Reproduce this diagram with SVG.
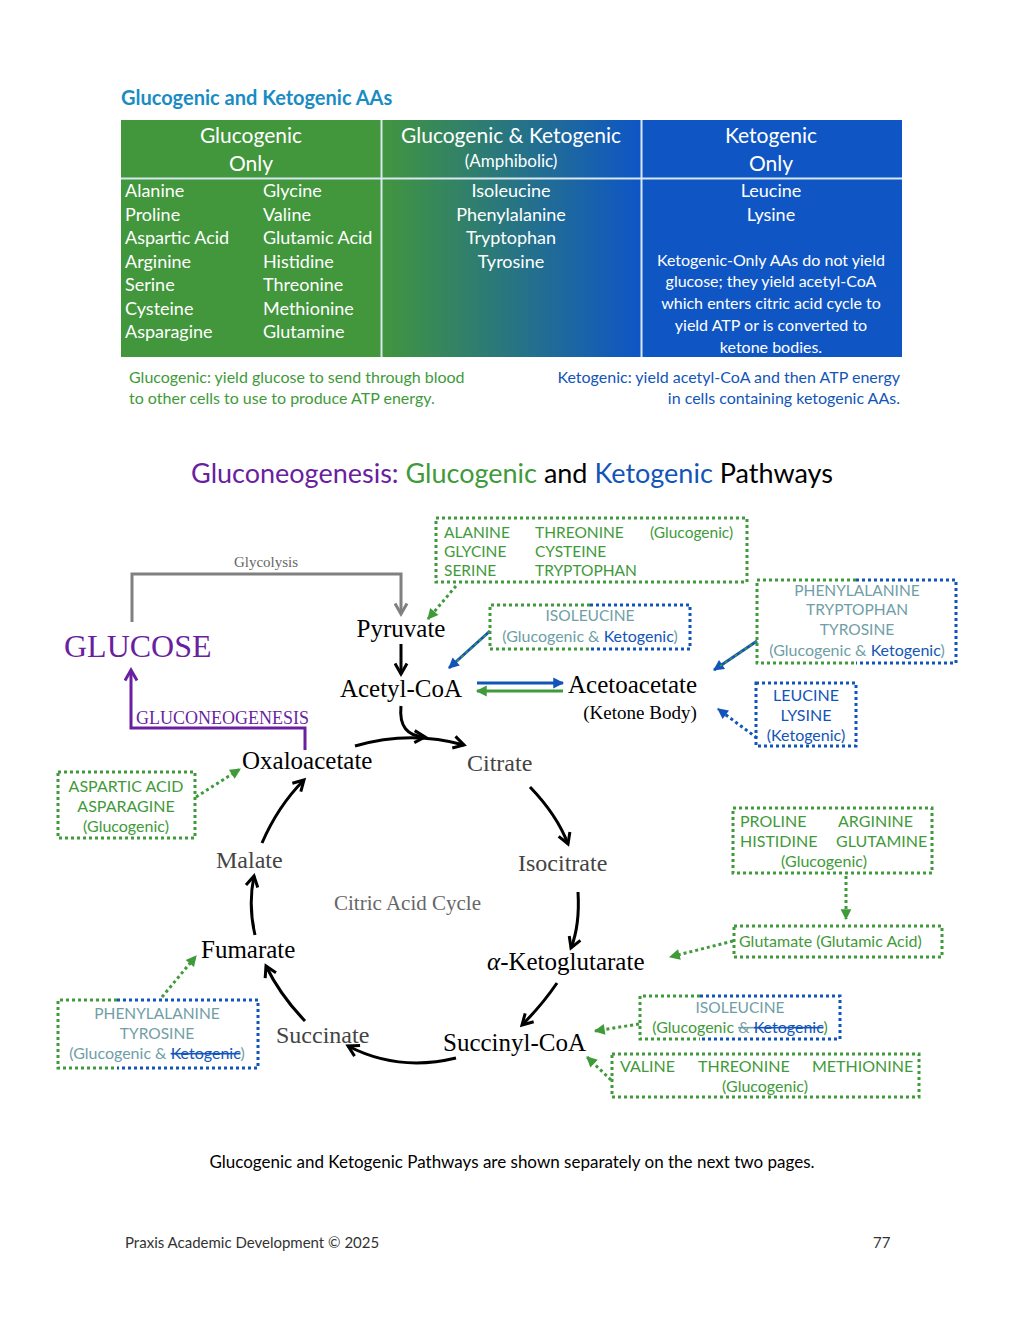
<svg xmlns="http://www.w3.org/2000/svg" width="1024" height="1325" viewBox="0 0 1024 1325">
<style>
.s{font-family:Lato,"Open Sans","Liberation Sans",sans-serif}
.r{font-family:"Liberation Serif","DejaVu Serif",serif}
.w{fill:#fff;font-size:18px}
.g{fill:#3f9a3a}.b{fill:#1255b8}.t{fill:#6f9ea6}
.gb{fill:none;stroke:#3f9a3a;stroke-width:3;stroke-dasharray:3 3}
.bb{fill:none;stroke:#1255b8;stroke-width:3;stroke-dasharray:3 3}
.k{fill:none;stroke:#000;stroke-width:3}
.m{font-size:25px;fill:#000}
.gr{font-size:24px;fill:#444}
.bx{font-size:15.5px}
</style>
<defs>
<linearGradient id="grad" x1="121" x2="902" y1="0" y2="0" gradientUnits="userSpaceOnUse">
<stop offset="0.33" stop-color="#42963c"/><stop offset="0.66" stop-color="#0f56c4"/>
</linearGradient>
<marker id="ak" viewBox="0 0 10 10" refX="8" refY="5" markerWidth="5" markerHeight="5" orient="auto"><path d="M1,1 L8,5 L1,9" fill="none" stroke="#000" stroke-width="2"/></marker>
<marker id="agr" viewBox="0 0 10 10" refX="8" refY="5" markerWidth="5" markerHeight="5" orient="auto"><path d="M1,1 L8,5 L1,9" fill="none" stroke="#808080" stroke-width="2"/></marker>
<marker id="ap" viewBox="0 0 10 10" refX="8" refY="5" markerWidth="5" markerHeight="5" orient="auto"><path d="M1,1 L8,5 L1,9" fill="none" stroke="#6a1fa0" stroke-width="2"/></marker>
<marker id="ag" viewBox="0 0 10 10" refX="9" refY="5" markerWidth="6" markerHeight="6" orient="auto" markerUnits="userSpaceOnUse" style="overflow:visible"><path d="M0,0 L10,5 L0,10 Z" fill="#3f9a3a" transform="scale(1.8) translate(-4,-2.2)"/></marker>
<marker id="ab" viewBox="0 0 10 10" refX="9" refY="5" markerWidth="6" markerHeight="6" orient="auto" markerUnits="userSpaceOnUse" style="overflow:visible"><path d="M0,0 L10,5 L0,10 Z" fill="#1255b8" transform="scale(1.8) translate(-4,-2.2)"/></marker>
</defs>
<rect width="1024" height="1325" fill="#fff"/>

<g id="table">
<text class="s" x="121" y="105" font-size="20" font-weight="bold" fill="#1a8cc4">Glucogenic and Ketogenic AAs</text>
<rect x="121" y="120" width="781" height="237" fill="url(#grad)"/>
<path d="M121,178.5 H902 M381.5,120 V357 M641.5,120 V357" stroke="#d8e8f0" stroke-width="2"/>
<g class="s w" text-anchor="middle" font-size="20">
<text x="251" y="143" font-size="21">Glucogenic</text><text x="251" y="171" font-size="21">Only</text>
<text x="511" y="143" font-size="21">Glucogenic &amp; Ketogenic</text><text x="511" y="167" font-size="17">(Amphibolic)</text>
<text x="771" y="143" font-size="21">Ketogenic</text><text x="771" y="171" font-size="21">Only</text>
</g>
<g class="s w" font-size="18">
<text x="125" y="197">Alanine</text><text x="125" y="221">Proline</text><text x="125" y="244">Aspartic Acid</text><text x="125" y="268">Arginine</text><text x="125" y="291">Serine</text><text x="125" y="315">Cysteine</text><text x="125" y="338">Asparagine</text>
<text x="263" y="197">Glycine</text><text x="263" y="221">Valine</text><text x="263" y="244">Glutamic Acid</text><text x="263" y="268">Histidine</text><text x="263" y="291">Threonine</text><text x="263" y="315">Methionine</text><text x="263" y="338">Glutamine</text>
</g>
<g class="s w" text-anchor="middle" font-size="18">
<text x="511" y="197">Isoleucine</text><text x="511" y="221">Phenylalanine</text><text x="511" y="244">Tryptophan</text><text x="511" y="268">Tyrosine</text>
<text x="771" y="197">Leucine</text><text x="771" y="221">Lysine</text>
<text x="771" y="266" font-size="16">Ketogenic-Only AAs do not yield</text>
<text x="771" y="287" font-size="16">glucose; they yield acetyl-CoA</text>
<text x="771" y="309" font-size="16">which enters citric acid cycle to</text>
<text x="771" y="331" font-size="16">yield ATP or is converted to</text>
<text x="771" y="353" font-size="16">ketone bodies.</text>
</g>
<g class="s" font-size="16">
<text class="g" x="129" y="383">Glucogenic: yield glucose to send through blood</text>
<text class="g" x="129" y="404">to other cells to use to produce ATP energy.</text>
<text class="b" x="900" y="383" text-anchor="end">Ketogenic: yield acetyl-CoA and then ATP energy</text>
<text class="b" x="900" y="404" text-anchor="end">in cells containing ketogenic AAs.</text>
</g>
<text class="s" x="512" y="483" font-size="27" text-anchor="middle"><tspan fill="#6a1fa0">Gluconeogenesis:</tspan> <tspan fill="#3f9a3a">Glucogenic</tspan> <tspan fill="#000">and</tspan> <tspan fill="#1255b8">Ketogenic</tspan> <tspan fill="#000">Pathways</tspan></text>
</g>

<g id="connectors">
<path d="M132,622 V574 H401 V614" fill="none" stroke="#808080" stroke-width="3" marker-end="url(#agr)"/>
<path d="M305,750 V728 H131 V670" fill="none" stroke="#6a1fa0" stroke-width="3" marker-end="url(#ap)"/>
<path d="M401,644 V674" class="k" marker-end="url(#ak)"/>
<path d="M401,706 Q398,736 425,737" class="k" marker-end="url(#ak)"/>
<path d="M355,746 Q410,730 464,745" class="k" marker-end="url(#ak)"/>
<path d="M530,787 Q557,815 568,844" class="k" marker-end="url(#ak)"/>
<path d="M578,892 Q580,925 571,948" class="k" marker-end="url(#ak)"/>
<path d="M557,983 Q542,1005 522,1025" class="k" marker-end="url(#ak)"/>
<path d="M456,1058 Q398,1072 348,1046" class="k" marker-end="url(#ak)"/>
<path d="M305,1021 Q280,995 266,966" class="k" marker-end="url(#ak)"/>
<path d="M255,935 Q248,905 254,876" class="k" marker-end="url(#ak)"/>
<path d="M262,843 Q278,806 304,780" class="k" marker-end="url(#ak)"/>
<path d="M477,683 H563" fill="none" stroke="#1255b8" stroke-width="3" marker-end="url(#ab)"/>
<path d="M563,691 H477" fill="none" stroke="#3f9a3a" stroke-width="3" marker-end="url(#ag)"/>
<path d="M456,586 L428,619" class="gb" marker-end="url(#ag)"/>
<path d="M490,631 L449,668" fill="none" stroke="#1255b8" stroke-width="3" marker-end="url(#ab)"/>
<path d="M490,631 L455,663" fill="none" stroke="#3f9a3a" stroke-width="1.5" stroke-dasharray="3 3"/>
<path d="M757,641 L714,670" fill="none" stroke="#1255b8" stroke-width="3" marker-end="url(#ab)"/>
<path d="M757,641 L720,666" fill="none" stroke="#3f9a3a" stroke-width="1.5" stroke-dasharray="3 3"/>
<path d="M757,738 L718,709" class="bb" marker-end="url(#ab)"/>
<path d="M196,797 L240,769" class="gb" marker-end="url(#ag)"/>
<path d="M846,876 V919" class="gb" marker-end="url(#ag)"/>
<path d="M733,941 L670,957" class="gb" marker-end="url(#ag)"/>
<path d="M639,1024 L595,1031" class="gb" marker-end="url(#ag)"/>
<path d="M611,1080 L587,1057" class="gb" marker-end="url(#ag)"/>
<path d="M162,997 L196,956" class="gb" marker-end="url(#ag)"/>
</g>

<g id="labels" class="r">
<text x="266" y="567" font-size="15" fill="#666" text-anchor="middle">Glycolysis</text>
<text x="64" y="657" font-size="32" fill="#6a1fa0">GLUCOSE</text>
<text x="136" y="724" font-size="18" fill="#6a1fa0">GLUCONEOGENESIS</text>
<text x="401" y="637" class="m" text-anchor="middle">Pyruvate</text>
<text x="401" y="697" class="m" text-anchor="middle">Acetyl-CoA</text>
<text x="568" y="693" class="m">Acetoacetate</text>
<text x="640" y="719" font-size="19" text-anchor="middle">(Ketone Body)</text>
<text x="242" y="769" class="m">Oxaloacetate</text>
<text x="467" y="771" class="gr">Citrate</text>
<text x="518" y="871" class="gr">Isocitrate</text>
<text x="487" y="970" class="m"><tspan font-style="italic">α</tspan>-Ketoglutarate</text>
<text x="443" y="1051" class="m">Succinyl-CoA</text>
<text x="276" y="1043" class="gr">Succinate</text>
<text x="201" y="958" class="m">Fumarate</text>
<text x="216" y="868" class="gr">Malate</text>
<text x="334" y="910" font-size="21" fill="#666">Citric Acid Cycle</text>
</g>

<g id="box1" class="s bx">
<rect x="436" y="518" width="311" height="64" class="gb"/>
<g class="g"><text x="444" y="538">ALANINE</text><text x="444" y="557">GLYCINE</text><text x="444" y="576">SERINE</text>
<text x="535" y="538">THREONINE</text><text x="535" y="557">CYSTEINE</text><text x="535" y="576">TRYPTOPHAN</text>
<text x="650" y="538">(Glucogenic)</text></g>
</g>
<g id="box2" class="s bx">
<path d="M590,605 H490 V649 H590" class="gb"/><path d="M590,605 H690 V649 H590" class="bb"/>
<text x="590" y="621" class="t" text-anchor="middle">ISOLEUCINE</text>
<text x="590" y="642" text-anchor="middle" font-size="16"><tspan class="t">(Glucogenic &amp; </tspan><tspan class="b">Ketogenic</tspan><tspan class="t">)</tspan></text>
</g>
<g id="box3" class="s bx">
<path d="M856,580 H757 V663 H856" class="gb"/><path d="M856,580 H956 V663 H856" class="bb"/>
<g class="t" text-anchor="middle"><text x="857" y="596">PHENYLALANINE</text><text x="857" y="615">TRYPTOPHAN</text><text x="857" y="635">TYROSINE</text></g>
<text x="857" y="656" text-anchor="middle" font-size="16"><tspan class="t">(Glucogenic &amp; </tspan><tspan class="b">Ketogenic</tspan><tspan class="t">)</tspan></text>
</g>
<g id="box4" class="s bx">
<rect x="756" y="683" width="100" height="63" class="bb"/>
<g class="b" text-anchor="middle" font-size="16"><text x="806" y="701">LEUCINE</text><text x="806" y="721">LYSINE</text><text x="806" y="741">(Ketogenic)</text></g>
</g>
<g id="box5" class="s bx">
<rect x="58" y="772" width="137" height="66" class="gb"/>
<g class="g" text-anchor="middle" font-size="16"><text x="126" y="792">ASPARTIC ACID</text><text x="126" y="812">ASPARAGINE</text><text x="126" y="832">(Glucogenic)</text></g>
</g>
<g id="box6" class="s bx">
<rect x="733" y="808" width="199" height="65" class="gb"/>
<g class="g" font-size="16"><text x="740" y="827">PROLINE</text><text x="838" y="827">ARGININE</text><text x="740" y="847">HISTIDINE</text><text x="836" y="847">GLUTAMINE</text><text x="824" y="867" text-anchor="middle">(Glucogenic)</text></g>
</g>
<g id="box7" class="s bx">
<rect x="734" y="926" width="208" height="31" class="gb"/>
<text x="739" y="947" class="g" font-size="16">Glutamate (Glutamic Acid)</text>
</g>
<g id="box8" class="s bx">
<path d="M700,996 H640 V1039 H700" class="gb"/><path d="M700,996 H840 V1039 H700" class="bb"/>
<text x="740" y="1013" class="t" text-anchor="middle">ISOLEUCINE</text>
<text x="740" y="1033" text-anchor="middle" font-size="16"><tspan class="g">(Glucogenic </tspan><tspan class="t" text-decoration="line-through">&amp; </tspan><tspan class="b" text-decoration="line-through">Ketogenic</tspan><tspan class="g">)</tspan></text>
</g>
<g id="box9" class="s bx">
<rect x="612" y="1054" width="307" height="43" class="gb"/>
<g class="g" font-size="16"><text x="620" y="1072">VALINE</text><text x="698" y="1072">THREONINE</text><text x="812" y="1072">METHIONINE</text><text x="765" y="1092" text-anchor="middle">(Glucogenic)</text></g>
</g>
<g id="box10" class="s bx">
<path d="M117,1000 H58 V1068 H117" class="gb"/><path d="M117,1000 H258 V1068 H117" class="bb"/>
<g class="t" text-anchor="middle"><text x="157" y="1019">PHENYLALANINE</text><text x="157" y="1039">TYROSINE</text></g>
<text x="157" y="1059" text-anchor="middle" font-size="16"><tspan class="t">(Glucogenic &amp; </tspan><tspan class="b" text-decoration="line-through">Ketogenic</tspan><tspan class="t">)</tspan></text>
</g>

<g id="footer" class="s">
<text x="512" y="1168" font-size="17" text-anchor="middle">Glucogenic and Ketogenic Pathways are shown separately on the next two pages.</text>
<text x="125" y="1248" font-size="15" fill="#333">Praxis Academic Development © 2025</text>
<text x="873" y="1248" font-size="15" fill="#333">77</text>
</g>
</svg>
